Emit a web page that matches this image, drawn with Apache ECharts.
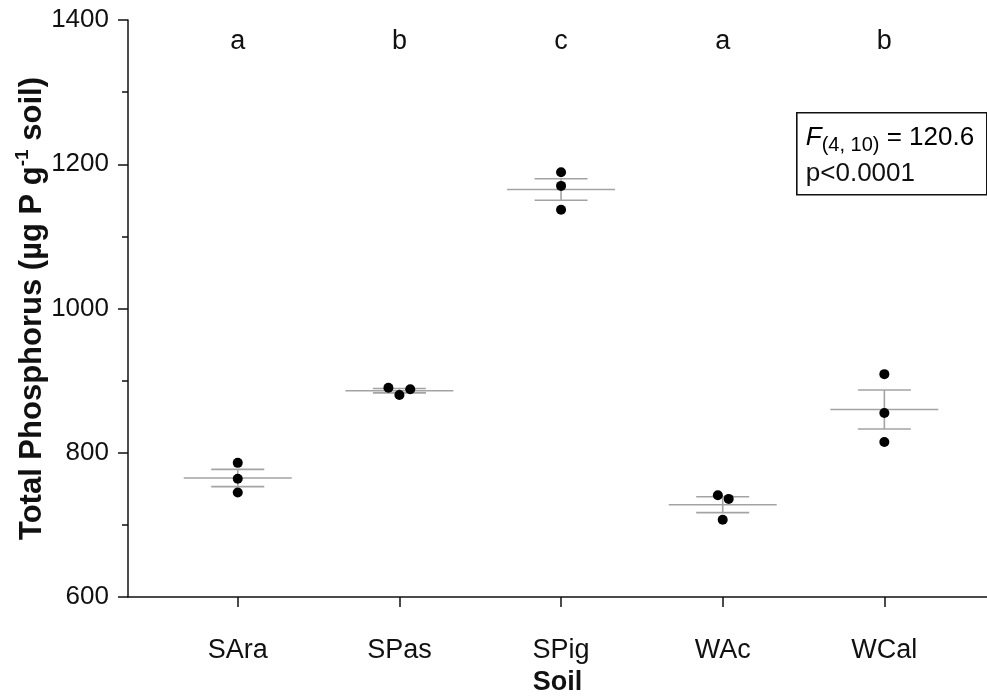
<!DOCTYPE html>
<html>
<head>
<meta charset="utf-8">
<script src="https://cdn.jsdelivr.net/npm/echarts@6/dist/echarts.min.js"></script>
<style>
  html, body { margin: 0; padding: 0; background: #fff; }
  #chart { width: 987px; height: 697px; }
</style>
</head>
<body>
<div id="chart"></div>
<script>
// Total phosphorus per soil: three replicates, group mean and SEM
const soils = ['SAra', 'SPas', 'SPig', 'WAc', 'WCal'];
const groupLetters = ['a', 'b', 'c', 'a', 'b'];
const sAra = [786, 764, 745];
const sPas = [890, 880, 888];
const sPig = [1189, 1170, 1137];
const wAc = [741, 736, 707];
const wCal = [909, 855, 815];
const groupMeans = [765, 886, 1165, 728, 860];
const groupSEM = [12, 3, 15, 11, 27];
const yTickValues = [600, 800, 1000, 1200, 1400];
const statDf = '(4, 10)';
const statF = '120.6';
const statP = 'p<0.0001';

const replicates = [sAra, sPas, sPig, wAc, wCal];

// sideways nudge (in group units) so touching dots stay visible
const dotNudge = [
  [0, 0, 0],
  [-0.068, 0, 0.067],
  [0, 0, 0],
  [-0.03, 0.037, 0],
  [0, 0, 0]
];

const FONT = "'Liberation Sans', Arial, sans-serif";
const INK = '#111';
const GREY = '#a3a3a3';
const groupPos = soils.map((_, i) => i + 1);

const dots = [];
replicates.forEach((vals, i) => {
  vals.forEach((v, j) => dots.push([groupPos[i] + dotNudge[i][j], v]));
});
const summary = groupMeans.map((m, i) => [groupPos[i], m, groupSEM[i]]);

const chart = echarts.init(document.getElementById('chart'), null, { renderer: 'canvas' });

chart.setOption({
  backgroundColor: '#fff',
  animation: false,
  grid: { left: 128, right: 0, top: 20, bottom: 100, containLabel: false, outerBoundsMode: 'none' },
  xAxis: [
    {
      type: 'value',
      min: 0.321,
      max: 5.635,
      splitLine: { show: false },
      axisLine: { show: true, onZero: false, lineStyle: { color: INK, width: 1.5 } },
      axisTick: { show: true, customValues: groupPos, length: 10, lineStyle: { color: INK, width: 1.5 } },
      axisLabel: {
        show: true,
        customValues: groupPos,
        formatter: v => soils[Math.round(v) - 1],
        margin: 40,
        fontFamily: FONT,
        fontSize: 27,
        color: INK
      },
      name: 'Soil',
      nameLocation: 'middle',
      nameGap: 72,
      nameMoveOverlap: false,
      nameTextStyle: { fontFamily: FONT, fontSize: 27, fontWeight: 'bold', color: INK }
    },
    {
      type: 'value',
      position: 'top',
      min: 0.321,
      max: 5.635,
      splitLine: { show: false },
      axisLine: { show: false },
      axisTick: { show: false },
      axisLabel: {
        show: true,
        inside: true,
        customValues: groupPos,
        formatter: v => groupLetters[Math.round(v) - 1],
        margin: 8,
        fontFamily: FONT,
        fontSize: 27,
        color: INK
      }
    }
  ],
  yAxis: {
    type: 'value',
    min: 600,
    max: 1400,
    interval: 200,
    splitLine: { show: false },
    axisLine: { show: true, lineStyle: { color: INK, width: 1.5 } },
    axisTick: { show: true, length: 10, lineStyle: { color: INK, width: 1.5 } },
    minorTick: { show: true, splitNumber: 2, length: 6, lineStyle: { color: INK, width: 1.5 } },
    axisLabel: {
      margin: 19,
      fontFamily: FONT,
      fontSize: 26,
      color: INK,
      customValues: yTickValues,
      formatter: v => String(v)
    },
    name: '{b|Total Phosphorus (µg P g}{s|-1}{b| soil)}',
    nameLocation: 'middle',
    nameGap: 77,
    nameMoveOverlap: false,
    nameTextStyle: {
      rich: {
        b: { fontFamily: FONT, fontSize: 31, fontWeight: 'bold', color: INK, lineHeight: 38 },
        s: { fontFamily: FONT, fontSize: 19, fontWeight: 'bold', color: INK, lineHeight: 20, verticalAlign: 'top' }
      }
    }
  },
  series: [
    {
      type: 'custom',
      xAxisIndex: 0,
      data: summary,
      z: 2,
      renderItem(params, api) {
        const x = api.value(0), m = api.value(1), se = api.value(2);
        const c = api.coord([x, m]);
        const hi = api.coord([x, m + se]);
        const lo = api.coord([x, m - se]);
        const unit = api.size([1, 0])[0];
        const meanHalf = unit * 0.334;
        const capHalf = unit * 0.164;
        const style = { stroke: GREY, lineWidth: 1.6 };
        return {
          type: 'group',
          children: [
            { type: 'line', shape: { x1: c[0] - meanHalf, y1: c[1], x2: c[0] + meanHalf, y2: c[1] }, style },
            { type: 'line', shape: { x1: hi[0], y1: hi[1], x2: lo[0], y2: lo[1] }, style },
            { type: 'line', shape: { x1: hi[0] - capHalf, y1: hi[1], x2: hi[0] + capHalf, y2: hi[1] }, style },
            { type: 'line', shape: { x1: lo[0] - capHalf, y1: lo[1], x2: lo[0] + capHalf, y2: lo[1] }, style }
          ]
        };
      }
    },
    {
      type: 'scatter',
      xAxisIndex: 0,
      data: dots,
      symbol: 'circle',
      symbolSize: 10,
      z: 3,
      itemStyle: { color: '#000', opacity: 1 }
    }
  ],
  graphic: [
    {
      type: 'group',
      left: 796,
      top: 112,
      children: [
        {
          type: 'rect',
          shape: { x: 0, y: 0, width: 190, height: 82 },
          style: { fill: '#fff', stroke: INK, lineWidth: 1.6 }
        },
        {
          type: 'text',
          x: 9,
          y: 25,
          style: {
            text: '{it|F}{sub|' + statDf + '}{n| = ' + statF + '}',
            verticalAlign: 'middle',
            rich: {
              it: { fontFamily: FONT, fontSize: 26, fontStyle: 'italic', color: INK, lineHeight: 36 },
              sub: { fontFamily: FONT, fontSize: 20, color: INK, lineHeight: 22, verticalAlign: 'bottom' },
              n: { fontFamily: FONT, fontSize: 26, color: INK, lineHeight: 36 }
            }
          }
        },
        {
          type: 'text',
          x: 9,
          y: 61,
          style: {
            text: statP,
            verticalAlign: 'middle',
            fontFamily: FONT,
            fontSize: 26,
            fill: INK
          }
        }
      ]
    }
  ]
});
</script>
</body>
</html>
